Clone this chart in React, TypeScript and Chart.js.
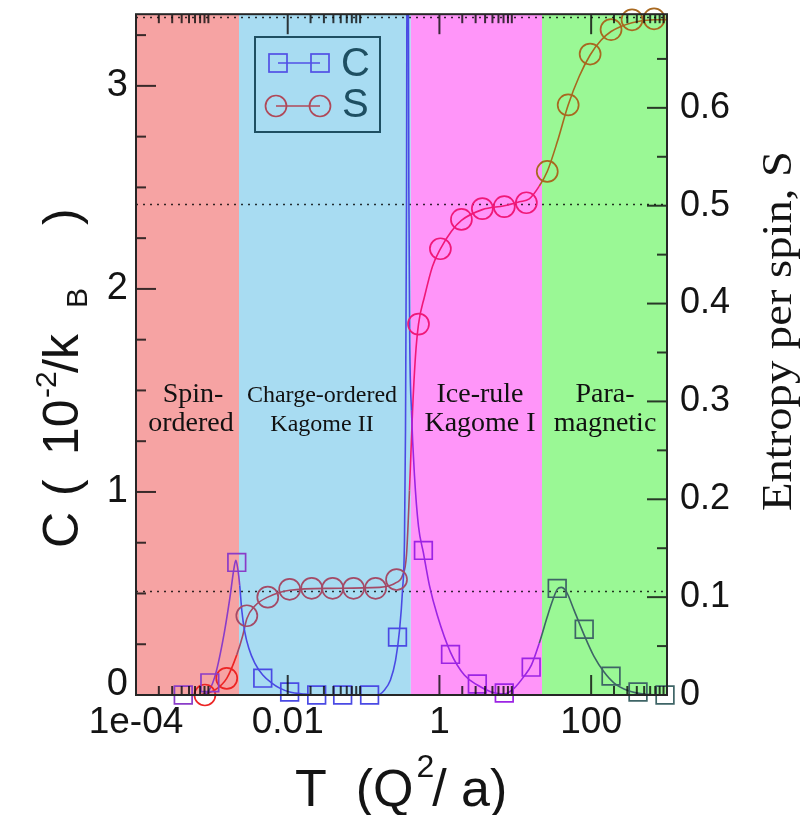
import React, { useEffect, useRef } from 'react';
import { Chart, registerables } from 'chart.js';

Chart.register(...registerables);

const SANS = '"Liberation Sans", Arial, Helvetica, sans-serif';
const SERIF = '"Liberation Serif", "Times New Roman", serif';

// Specific heat C (units of 1e-2 k_B) at the marker temperatures (T in Q^2/a)
const cMarkerT = [0.00042, 0.00094, 0.00213, 0.00469, 0.0106, 0.0241, 0.053, 0.12, 0.28, 0.615, 1.4, 3.16, 7.16, 16.2, 35.7, 81, 183, 415, 942];
const cMarkerC = [0, 0.06, 0.653, 0.083, 0.015, 0, 0, 0, 0.285, 0.712, 0.2, 0.054, 0.01, 0.137, 0.525, 0.324, 0.093, 0.015, 0];

// Full specific-heat curve
const cCurveT = [0.000415, 0.000695, 0.00086, 0.00109, 0.0014, 0.00173, 0.00195, 0.00207, 0.0022, 0.00233, 0.00248, 0.00272, 0.00307, 0.00368, 0.00469, 0.00617, 0.00785, 0.0106, 0.0168, 0.0264, 0.153, 0.189, 0.226, 0.264, 0.298, 0.326, 0.346, 0.357, 0.368, 0.376, 0.385, 0.395, 0.406, 0.428, 0.469, 0.53, 0.615, 0.738, 0.942, 1.4, 2.13, 3.16, 4.83, 7.16, 9.7, 13.1, 16.3, 20.7, 26.4, 30.7, 35.7, 40.3, 46.9, 59.7, 81, 109, 148, 201, 316, 498, 942];
const cCurveC = [0, 0, 0.01, 0.088, 0.27, 0.48, 0.62, 0.663, 0.62, 0.54, 0.417, 0.31, 0.23, 0.157, 0.098, 0.059, 0.034, 0.015, 0.005, 0, 0, 0.025, 0.074, 0.17, 0.32, 0.515, 0.76, 1.3, 2.4, 4.0, 4.0, 2.5, 1.75, 1.4, 1.08, 0.83, 0.7, 0.54, 0.39, 0.21, 0.098, 0.049, 0.015, 0.005, 0.034, 0.093, 0.147, 0.255, 0.385, 0.46, 0.52, 0.53, 0.51, 0.417, 0.295, 0.19, 0.113, 0.059, 0.02, 0.005, 0];

// Entropy per spin S at the marker temperatures
const sMarkerT = [0.00081, 0.00157, 0.00289, 0.00546, 0.0106, 0.0207, 0.0391, 0.0738, 0.144, 0.272, 0.53, 1.03, 1.95, 3.68, 7.16, 14.0, 26.4, 49.8, 97, 183, 346, 675];
const sMarkerS = [0, 0.017, 0.081, 0.1, 0.108, 0.109, 0.109, 0.109, 0.109, 0.118, 0.379, 0.456, 0.486, 0.497, 0.499, 0.503, 0.535, 0.603, 0.655, 0.68, 0.69, 0.691];

// Full entropy curve
const sCurveT = [0.000695, 0.00109, 0.00157, 0.00213, 0.00256, 0.00289, 0.00368, 0.00546, 0.0106, 0.0357, 0.1626, 0.272, 0.326, 0.368, 0.403, 0.442, 0.483, 0.53, 0.635, 0.809, 1.03, 1.44, 1.95, 3.68, 7.16, 11.3, 15.3, 20.7, 26.4, 35.7, 49.8, 69.5, 97, 135, 183, 346, 675, 1000];
const sCurveS = [0, 0.005, 0.017, 0.041, 0.061, 0.078, 0.091, 0.1, 0.107, 0.109, 0.11, 0.115, 0.122, 0.143, 0.209, 0.29, 0.346, 0.379, 0.407, 0.438, 0.456, 0.474, 0.485, 0.496, 0.5, 0.504, 0.507, 0.52, 0.535, 0.565, 0.603, 0.632, 0.654, 0.669, 0.678, 0.687, 0.69, 0.69];

// Phase regions: temperature limits, names and fill colours
const phaseEdges = [1e-4, 0.00228, 0.42, 22.5, 1000];
const phaseNames = [['Spin-', 'ordered'], ['Charge-ordered', 'Kagome II'], ['Ice-rule', 'Kagome I'], ['Para-', 'magnetic']];
const phaseFonts = [28, 24, 28, 28];
const phaseNameX = [191, 322, 480, 605];
const phaseColors = ['#f6a3a3', '#a8dcf2', '#ff95f9', '#9af895'];
// Curve colours over each phase band
const cColors = ['#8a3cc8', '#4a4ae4', '#9c24e4', '#3e6466'];
const sColors = ['#ec2424', '#a44a66', '#f01878', '#a8681f'];

// Reference entropies: ln 2, kagome ice, charge-ordered plateau
const refEntropy = [0.6931, 0.5018, 0.1065];

// Axis ticks
const xTicks = [1e-4, 1e-2, 1, 100];
const xTickLabels = ['1e-04', '0.01', '1', '100'];
const cTicks = [0, 1, 2, 3];
const cTickLabels = ['0', '1', '2', '3'];
const sTicks = [0, 0.1, 0.2, 0.3, 0.4, 0.5, 0.6];
const sTickLabels = ['0', '0.1', '0.2', '0.3', '0.4', '0.5', '0.6'];

const phaseOf = (t: number) => {
  for (let i = 0; i < 4; i++) if (t < phaseEdges[i + 1]) return i;
  return 3;
};

const pts = (ts: number[], vs: number[]) => ts.map((t, i) => ({ x: t, y: vs[i] }));

const decorations = {
  id: 'decorations',
  beforeDatasetsDraw(chart: any) {
    const { ctx, chartArea: a, scales } = chart;
    const xs = scales.x;
    ctx.save();
    for (let i = 0; i < 4; i++) {
      const l = Math.max(a.left, xs.getPixelForValue(phaseEdges[i]));
      const r = Math.min(a.right, xs.getPixelForValue(phaseEdges[i + 1]));
      ctx.fillStyle = phaseColors[i];
      ctx.fillRect(l, a.top, r - l, a.bottom - a.top);
    }
    ctx.strokeStyle = 'rgba(0,0,0,0.8)';
    ctx.lineWidth = 1.6;
    ctx.setLineDash([2, 5]);
    refEntropy.forEach((v) => {
      const y = Math.round(scales.yS.getPixelForValue(v)) + 0.5;
      ctx.beginPath();
      ctx.moveTo(a.left, y);
      ctx.lineTo(a.right, y);
      ctx.stroke();
    });
    ctx.restore();
  },
  afterDatasetsDraw(chart: any) {
    const { ctx, chartArea: a, scales } = chart;
    const xs = scales.x, yC = scales.yC, yS = scales.yS;
    ctx.save();
    const seg = (x1: number, y1: number, x2: number, y2: number) => {
      ctx.beginPath();
      ctx.moveTo(x1, y1);
      ctx.lineTo(x2, y2);
      ctx.stroke();
    };
    // ticks pointing inward on all four sides
    ctx.strokeStyle = 'rgba(15,15,15,0.82)';
    ctx.lineWidth = 2;
    xTicks.forEach((t) => {
      const px = xs.getPixelForValue(t);
      seg(px, a.top, px, a.top + 20);
      seg(px, a.bottom, px, a.bottom - 20);
      for (let k = 2; k <= 9; k++) {
        const q = xs.getPixelForValue(t * k);
        seg(q, a.top, q, a.top + 9);
        seg(q, a.bottom, q, a.bottom - 9);
      }
    });
    for (let i = 0; i <= 13; i++) {
      const py = yC.getPixelForValue(i * 0.25);
      seg(a.left, py, a.left + (i % 4 === 0 ? 20 : 10), py);
    }
    for (let i = 0; i <= 13; i++) {
      const py = yS.getPixelForValue(i * 0.05);
      seg(a.right, py, a.right - (i % 2 === 0 ? 20 : 10), py);
    }
    ctx.strokeStyle = '#262626';
    ctx.lineWidth = 2;
    ctx.strokeRect(a.left, a.top, a.right - a.left, a.bottom - a.top);

    // tick labels
    ctx.fillStyle = '#141414';
    ctx.font = `38px ${SANS}`;
    ctx.textAlign = 'right';
    ctx.textBaseline = 'middle';
    cTicks.forEach((v, i) => {
      const py = yC.getPixelForValue(v) - (v === 0 ? 10 : 0);
      ctx.fillText(cTickLabels[i], a.left - 8, py);
    });
    ctx.font = `36px ${SANS}`;
    ctx.textAlign = 'left';
    sTicks.forEach((v, i) => {
      ctx.fillText(sTickLabels[i], a.right + 13, yS.getPixelForValue(v));
    });
    ctx.font = `37px ${SANS}`;
    ctx.textAlign = 'center';
    xTicks.forEach((t, i) => {
      ctx.fillText(xTickLabels[i], xs.getPixelForValue(t), a.bottom + 28);
    });

    // x title
    ctx.textAlign = 'left';
    ctx.textBaseline = 'alphabetic';
    ctx.font = `52px ${SANS}`;
    let cx = 295;
    ctx.fillText('T  (Q', cx, 806);
    cx += ctx.measureText('T  (Q').width;
    ctx.font = `32px ${SANS}`;
    ctx.fillText('2', cx + 3, 777);
    cx += 3 + ctx.measureText('2').width;
    ctx.font = `52px ${SANS}`;
    ctx.fillText('/ a)', cx - 2, 806);

    // left title, rotated
    ctx.save();
    ctx.translate(78, 548);
    ctx.rotate(-Math.PI / 2);
    ctx.font = `50px ${SANS}`;
    ctx.fillText('C', 0, 0);
    ctx.fillText('(', 52, 0);
    ctx.fillText('10', 93, 0);
    ctx.font = `30px ${SANS}`;
    ctx.fillText('-2', 150, -22);
    ctx.font = `50px ${SANS}`;
    ctx.fillText('/k', 175, 0);
    ctx.font = `30px ${SANS}`;
    ctx.fillText('B', 240, 9);
    ctx.font = `50px ${SANS}`;
    ctx.fillText(')', 323, 0);
    ctx.restore();

    // right title, rotated
    ctx.save();
    ctx.translate(791, 331);
    ctx.rotate(-Math.PI / 2);
    ctx.font = `42px ${SERIF}`;
    const rt = 'Entropy per spin, S';
    const w = ctx.measureText(rt).width;
    ctx.scale(360 / w, 1);
    ctx.textAlign = 'center';
    ctx.fillText(rt, 0, 0);
    ctx.restore();

    // phase names
    ctx.textAlign = 'center';
    ctx.fillStyle = '#111';
    for (let i = 0; i < 4; i++) {
      ctx.font = `${phaseFonts[i]}px ${SERIF}`;
      ctx.fillText(phaseNames[i][0], phaseNameX[i] + (i === 0 ? 2 : 0), 402);
      ctx.fillText(phaseNames[i][1], phaseNameX[i], 431);
    }

    // legend
    const teal = '#1e4f62';
    ctx.strokeStyle = teal;
    ctx.lineWidth = 2;
    ctx.strokeRect(255, 37, 125, 95);
    ctx.lineWidth = 1.7;
    ctx.strokeStyle = '#5250e6';
    seg(278, 63, 320, 63);
    [278, 320].forEach((px) => ctx.strokeRect(px - 9, 63 - 9, 18, 18));
    ctx.strokeStyle = '#b04858';
    seg(276, 106, 320, 106);
    [276, 320].forEach((px) => {
      ctx.beginPath();
      ctx.arc(px, 106, 10.5, 0, Math.PI * 2);
      ctx.stroke();
    });
    ctx.fillStyle = teal;
    ctx.font = `40px ${SANS}`;
    ctx.textAlign = 'left';
    ctx.textBaseline = 'middle';
    ctx.fillText('C', 341, 65);
    ctx.fillText('S', 342, 106);
    ctx.restore();
  },
};

export default function App() {
  const ref = useRef<HTMLCanvasElement | null>(null);

  useEffect(() => {
    if (!ref.current) return;
    const chart = new Chart(ref.current, {
      type: 'line',
      data: {
        datasets: [
          {
            label: 'C',
            data: pts(cMarkerT, cMarkerC),
            yAxisID: 'yC',
            showLine: false,
            pointStyle: 'rect',
            pointRadius: 12.5,
            pointBorderWidth: 1.7,
            pointBackgroundColor: 'rgba(0,0,0,0)',
            pointBorderColor: (c: any) => cColors[phaseOf(c.raw ? c.raw.x : 1)],
            clip: false,
          },
          {
            label: 'S',
            data: pts(sMarkerT, sMarkerS),
            yAxisID: 'yS',
            showLine: false,
            pointStyle: 'circle',
            pointRadius: 10.5,
            pointBorderWidth: 1.7,
            pointBackgroundColor: 'rgba(0,0,0,0)',
            pointBorderColor: (c: any) => sColors[phaseOf(c.raw ? c.raw.x : 1)],
            clip: false,
          },
          {
            label: 'C curve',
            data: pts(cCurveT, cCurveC),
            yAxisID: 'yC',
            borderColor: cColors[1],
            borderWidth: 1.6,
            pointRadius: 0,
            fill: false,
            cubicInterpolationMode: 'monotone',
            segment: {
              borderColor: (s: any) => cColors[phaseOf(Math.sqrt(s.p0.parsed.x * s.p1.parsed.x))],
            },
          },
          {
            label: 'S curve',
            data: pts(sCurveT, sCurveS),
            yAxisID: 'yS',
            borderColor: sColors[1],
            borderWidth: 1.6,
            pointRadius: 0,
            fill: false,
            cubicInterpolationMode: 'monotone',
            segment: {
              borderColor: (s: any) => sColors[phaseOf(Math.sqrt(s.p0.parsed.x * s.p1.parsed.x))],
            },
          },
        ],
      },
      options: {
        responsive: false,
        animation: false,
        devicePixelRatio: 1,
        layout: { padding: { left: 136, right: 136, top: 12, bottom: 120 } },
        scales: {
          x: { type: 'logarithmic', min: 1e-4, max: 1000, display: false },
          yC: { type: 'linear', position: 'left', min: 0, max: 3.353, display: false },
          yS: { type: 'linear', position: 'right', min: 0, max: 0.6957, display: false },
        },
        plugins: {
          legend: { display: false },
          tooltip: { enabled: false },
        },
      },
      plugins: [decorations],
    } as any);
    return () => chart.destroy();
  }, []);

  return (
    <div style={{ position: 'absolute', left: 0, top: 0, width: 803, height: 815, background: '#fff' }}>
      <canvas ref={ref} width={803} height={815} style={{ display: 'block' }} />
    </div>
  );
}
